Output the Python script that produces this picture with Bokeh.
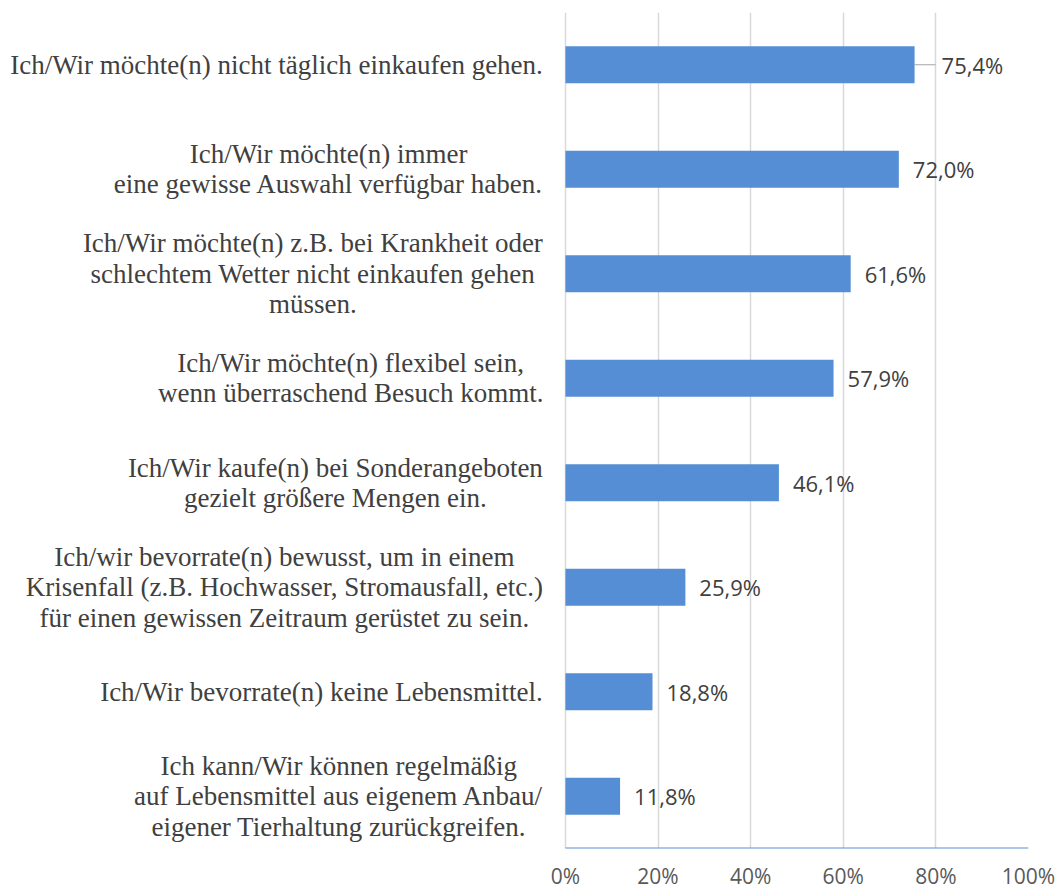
from bokeh.plotting import figure
from bokeh.models import Range1d, FixedTicker, ColumnDataSource
from bokeh.core.properties import value
from bokeh.embed import file_html
from bokeh.resources import INLINE

# ---------------- data ----------------
categories = [
    "Ich/Wir möchte(n) nicht täglich einkaufen gehen.",
    "Ich/Wir möchte(n) immer\neine gewisse Auswahl verfügbar haben.",
    "Ich/Wir möchte(n) z.B. bei Krankheit oder\nschlechtem Wetter nicht einkaufen gehen\nmüssen.",
    "Ich/Wir möchte(n) flexibel sein,\nwenn überraschend Besuch kommt.",
    "Ich/Wir kaufe(n) bei Sonderangeboten\ngezielt größere Mengen ein.",
    "Ich/wir bevorrate(n) bewusst, um in einem\nKrisenfall (z.B. Hochwasser, Stromausfall, etc.)\nfür einen gewissen Zeitraum gerüstet zu sein.",
    "Ich/Wir bevorrate(n) keine Lebensmittel.",
    "Ich kann/Wir können regelmäßig\nauf Lebensmittel aus eigenem Anbau/\neigener Tierhaltung zurückgreifen.",
]
values = [75.4, 72.0, 61.6, 57.9, 46.1, 25.9, 18.8, 11.8]
value_labels = ["75,4%", "72,0%", "61,6%", "57,9%", "46,1%", "25,9%", "18,8%", "11,8%"]
tick_values = [0, 20, 40, 60, 80, 100]
tick_labels = ["0%", "20%", "40%", "60%", "80%", "100%"]

# ---------------- layout constants ----------------
FRAME_W = 1028
TOP = 12
BOTTOM = 42
HEIGHT = 892
FRAME_H = HEIGHT - TOP - BOTTOM
X_START, X_END = -122.0, 100
N = len(categories)
PPU_X = FRAME_W / (X_END - X_START)
PPU_Y = FRAME_H / N
LABEL_FONT_PX = 27
LINE_SPACING_PX = 30.5
LABEL_RIGHT_PX = 22  # gap between label block right edge and 0%
BAR_COLOR = "#558ed5"

# Times / Liberation Serif advance widths (per 1000 em)
TW = {
    "a": 444, "b": 500, "c": 444, "d": 500, "e": 444, "f": 333, "g": 500, "h": 500,
    "i": 278, "j": 278, "k": 500, "l": 278, "m": 778, "n": 500, "o": 500, "p": 500,
    "q": 500, "r": 333, "s": 389, "t": 278, "u": 500, "v": 500, "w": 722, "x": 500,
    "y": 500, "z": 444, "A": 722, "B": 667, "H": 722, "I": 333, "K": 722, "L": 611,
    "M": 889, "S": 556, "T": 611, "W": 944, "Z": 611, " ": 250, "(": 333, ")": 333,
    ",": 250, ".": 250, "/": 278, "ä": 444, "ö": 500, "ü": 500, "ß": 500,
}


def text_width_px(s):
    return sum(TW.get(ch, 500) for ch in s) / 1000.0 * LABEL_FONT_PX


ys = [N - i - 0.5 for i in range(N)]

p = figure(
    width=FRAME_W + 27,
    height=HEIGHT,
    x_range=Range1d(X_START, X_END),
    y_range=Range1d(0, N),
    output_backend="svg",
    toolbar_location=None,
    y_axis_location=None,
    min_border_left=0,
    min_border_right=27,
    min_border_top=TOP,
    min_border_bottom=BOTTOM,
)
p.outline_line_color = None
p.background_fill_color = "white"
p.border_fill_color = "white"

ticker = FixedTicker(ticks=tick_values)
p.xaxis.ticker = ticker
p.xaxis.major_label_overrides = {t: l for t, l in zip(tick_values, tick_labels)}
p.xaxis.axis_line_color = None
p.xaxis.major_tick_line_color = None
p.xaxis.minor_tick_line_color = None
p.xaxis.major_tick_out = 0
p.xaxis.major_tick_in = 0
p.xaxis.minor_tick_out = 0
p.xaxis.major_label_standoff = 13
p.xaxis.major_label_text_font = "Open Sans"
p.xaxis.major_label_text_font_size = "21px"
p.xaxis.major_label_text_color = "#595959"
p.xgrid.ticker = ticker
p.xgrid.grid_line_color = "#d9d9d9"
p.xgrid.grid_line_width = 1.5
p.ygrid.visible = False

# bars
src = ColumnDataSource(dict(y=ys, v=values, lab=value_labels,
                            off=[27 if i == 0 else 14 for i in range(N)]))
p.hbar(y="y", left=0, right="v", height=0.355, source=src,
       fill_color=BAR_COLOR, line_color=None)

# leader line for first label
p.segment(x0=[values[0]], y0=[ys[0]], x1=[values[0] + 21 / PPU_X], y1=[ys[0]],
          line_color="#a6a6a6", line_width=1)

# value labels
p.text(x="v", y="y", text="lab", x_offset="off", source=src,
       text_align="left", text_baseline="middle",
       text_font=value("Open Sans"), text_font_size="22px", text_color="#404040")

# bottom axis line (0%..100%)
p.segment(x0=[tick_values[0]], y0=[0], x1=[tick_values[-1]], y1=[0],
          line_color="#5b8fd5", line_width=2)

# category labels (centered lines, block right-aligned)
lx, ly, lt = [], [], []
right_x = tick_values[0] - LABEL_RIGHT_PX / PPU_X
for cat, yc in zip(categories, ys):
    lines = cat.split("\n")
    wmax = max(text_width_px(l) for l in lines)
    cx = right_x - (wmax / 2) / PPU_X
    n = len(lines)
    for j, line in enumerate(lines):
        lx.append(cx)
        ly.append(yc - (j - (n - 1) / 2) * LINE_SPACING_PX / PPU_Y)
        lt.append(line)
p.text(x=lx, y=ly, text=lt, text_align="center", text_baseline="middle",
       text_font=value("Liberation Serif"), text_font_size=f"{LABEL_FONT_PX}px",
       text_color="#404040")

open("out.html", "w").write(file_html(p, INLINE))
